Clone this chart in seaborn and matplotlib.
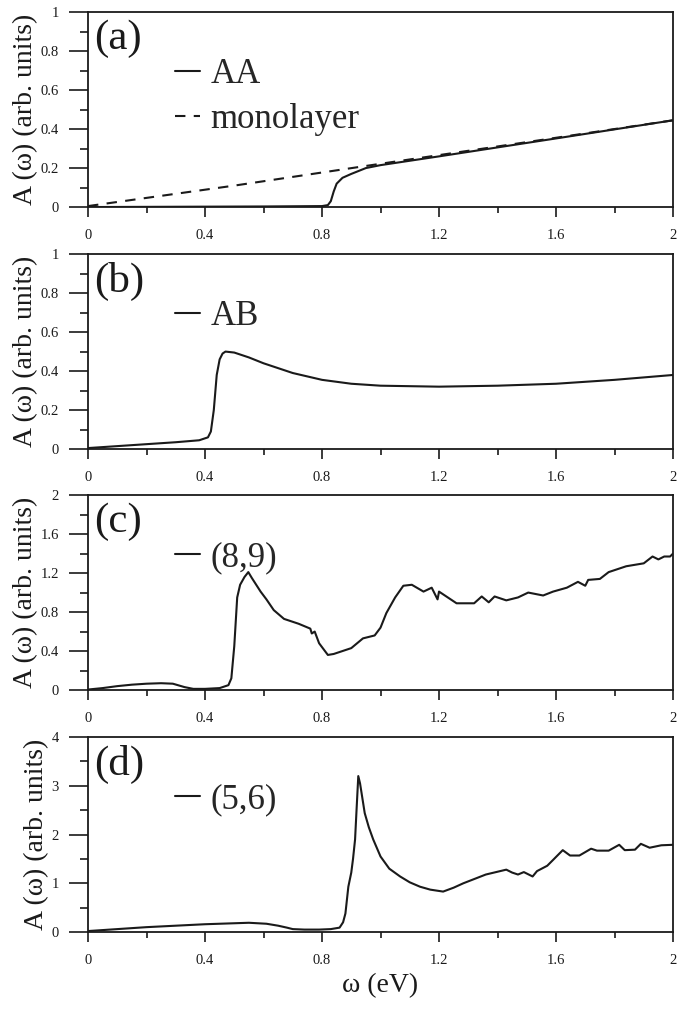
import matplotlib
matplotlib.use("Agg")
import matplotlib.pyplot as plt
from matplotlib.ticker import MultipleLocator, FuncFormatter
import seaborn as sns
import pandas as pd

# (a) AA stacking and monolayer
w_aa = [0, 0.2, 0.4, 0.6, 0.8, 0.82, 0.83, 0.84, 0.85, 0.87, 0.9, 0.95, 1.0, 1.2, 1.6, 2.0]
a_aa = [0.0, 0.001, 0.002, 0.003, 0.005, 0.01, 0.03, 0.08, 0.12, 0.15, 0.17, 0.2, 0.215, 0.26, 0.352, 0.445]
w_mono = [0, 0.5, 1.0, 1.5, 2.0]
a_mono = [0.005, 0.11, 0.222, 0.333, 0.445]

# (b) AB stacking
w_ab = [0, 0.1, 0.2, 0.3, 0.38, 0.41, 0.42, 0.43, 0.44, 0.45, 0.46, 0.47, 0.5, 0.55, 0.6,
        0.7, 0.8, 0.9, 1.0, 1.2, 1.4, 1.6, 1.8, 2.0]
a_ab = [0.005, 0.015, 0.025, 0.035, 0.045, 0.06, 0.09, 0.2, 0.38, 0.46, 0.49, 0.5, 0.495, 0.47, 0.44,
        0.39, 0.355, 0.335, 0.325, 0.32, 0.325, 0.335, 0.355, 0.38]

# (c) twisted (8,9)
w_89 = [0, 0.05, 0.1, 0.15, 0.2, 0.25, 0.29, 0.33, 0.36, 0.4, 0.45, 0.48, 0.49, 0.5, 0.51,
        0.52, 0.535, 0.548, 0.56, 0.59, 0.61, 0.635, 0.67, 0.72, 0.76, 0.765, 0.775, 0.79,
        0.82, 0.84, 0.87, 0.9, 0.94, 0.98, 1.0, 1.02, 1.05, 1.078, 1.107, 1.147, 1.175,
        1.195, 1.2, 1.26, 1.32, 1.346, 1.37, 1.39, 1.43, 1.47, 1.505, 1.556, 1.59, 1.637,
        1.675, 1.7, 1.71, 1.75, 1.78, 1.84, 1.9, 1.93, 1.95, 1.97, 1.99, 2.0]
a_89 = [0.005, 0.02, 0.04, 0.055, 0.065, 0.07, 0.065, 0.03, 0.012, 0.012, 0.02, 0.05, 0.12,
        0.45, 0.95, 1.08, 1.16, 1.21, 1.15, 1.01, 0.93, 0.82, 0.73, 0.68, 0.63, 0.58, 0.6,
        0.48, 0.36, 0.37, 0.4, 0.43, 0.53, 0.56, 0.64, 0.79, 0.95, 1.07, 1.08, 1.01, 1.05,
        0.93, 1.01, 0.89, 0.89, 0.96, 0.9, 0.96, 0.92, 0.95, 1.0, 0.97, 1.01, 1.05,
        1.11, 1.07, 1.13, 1.14, 1.21, 1.27, 1.3, 1.37, 1.34, 1.37, 1.37, 1.4]

# (d) twisted (5,6)
w_56 = [0, 0.1, 0.2, 0.3, 0.4, 0.5, 0.55, 0.61, 0.65, 0.68, 0.7, 0.74, 0.79, 0.83, 0.86,
        0.872, 0.88, 0.89, 0.9, 0.906, 0.913, 0.918, 0.924, 0.93, 0.935, 0.946, 0.96, 0.975,
        1.0, 1.03, 1.067, 1.1, 1.135, 1.17, 1.214, 1.25, 1.283, 1.36, 1.43, 1.45, 1.47,
        1.49, 1.52, 1.535, 1.57, 1.59, 1.623, 1.648, 1.68, 1.7, 1.72, 1.74, 1.78, 1.816,
        1.835, 1.87, 1.89, 1.92, 1.96, 2.0]
a_56 = [0.02, 0.06, 0.1, 0.13, 0.16, 0.18, 0.19, 0.17, 0.13, 0.09, 0.06, 0.05, 0.05, 0.06,
        0.09, 0.2, 0.38, 0.93, 1.22, 1.5, 1.9, 2.5, 3.2, 3.05, 2.86, 2.44, 2.15, 1.9,
        1.55, 1.3, 1.14, 1.02, 0.93, 0.87, 0.83, 0.91, 1.0, 1.18, 1.28, 1.22, 1.18,
        1.23, 1.14, 1.25, 1.36, 1.48, 1.68, 1.57, 1.57, 1.64, 1.71, 1.67, 1.67, 1.79,
        1.68, 1.69, 1.81, 1.73, 1.78, 1.79]

panel_tags = ["(a)", "(b)", "(c)", "(d)"]
y_max = [1, 1, 2, 4]
y_major = [0.2, 0.2, 0.4, 1]

sns.set_theme(style="ticks")
plt.rcParams["font.family"] = ["Liberation Serif", "DejaVu Serif"]

fig = plt.figure(figsize=(6.85, 10.1), dpi=100)
bottoms = [0.795, 0.5554, 0.3168, 0.0772]
axes = [fig.add_axes([0.1285, b, 0.854, 0.193]) for b in bottoms]

# curves
sns.lineplot(x=w_mono, y=a_mono, ax=axes[0], color="k", lw=1.5, estimator=None,
             label="monolayer")
axes[0].lines[-1].set_dashes((5, 4))
sns.lineplot(x=w_aa, y=a_aa, ax=axes[0], color="k", lw=1.5, estimator=None, label="AA")
sns.lineplot(x=w_ab, y=a_ab, ax=axes[1], color="k", lw=1.5, estimator=None, label="AB")
sns.lineplot(x=w_89, y=a_89, ax=axes[2], color="k", lw=1.5, estimator=None, label="(8,9)")
sns.lineplot(x=w_56, y=a_56, ax=axes[3], color="k", lw=1.5, estimator=None, label="(5,6)")

fmt = FuncFormatter(lambda v, p: f"{v:g}")
for i, ax in enumerate(axes):
    ax.set_xlim(0, 2)
    ax.set_ylim(0, y_max[i])
    ax.xaxis.set_major_locator(MultipleLocator(0.4))
    ax.xaxis.set_minor_locator(MultipleLocator(0.2))
    ax.yaxis.set_major_locator(MultipleLocator(y_major[i]))
    ax.yaxis.set_minor_locator(MultipleLocator(y_major[i] / 2))
    ax.xaxis.set_major_formatter(fmt)
    ax.yaxis.set_major_formatter(fmt)
    ax.tick_params(axis="x", which="major", length=7, width=1.2, pad=9, labelsize=10.5, color="k")
    ax.tick_params(axis="x", which="minor", length=4.5, width=1.2, color="k")
    ax.tick_params(axis="y", which="major", length=14, width=1.2, pad=7, labelsize=10.5, color="k")
    ax.tick_params(axis="y", which="minor", length=5.5, width=1.2, color="k")
    ax.tick_params(which="both", direction="out", top=False, right=False, labelcolor="k")
    for s in ax.spines.values():
        s.set_color("k")
        s.set_linewidth(1.3)
    ax.set_ylabel("A (ω) (arb. units)", fontsize=20, color="k", labelpad=2)
    ax.set_xlabel("")
    ax.text(0.011, 0.96, panel_tags[i], transform=ax.transAxes, fontsize=31,
            va="top", ha="left", color="k")
    handles, labels = ax.get_legend_handles_labels()
    if i == 0:
        handles, labels = handles[::-1], labels[::-1]
    ax.legend(handles, labels, loc="upper left", bbox_to_anchor=(0.149, 0.765),
              frameon=False, fontsize=25, handlelength=0.72, handletextpad=0.3,
              borderpad=0, borderaxespad=0, labelspacing=0.36)

axes[-1].set_xlabel("ω (eV)", fontsize=20, color="k", labelpad=4)

fig.savefig("out.png", dpi=100)
